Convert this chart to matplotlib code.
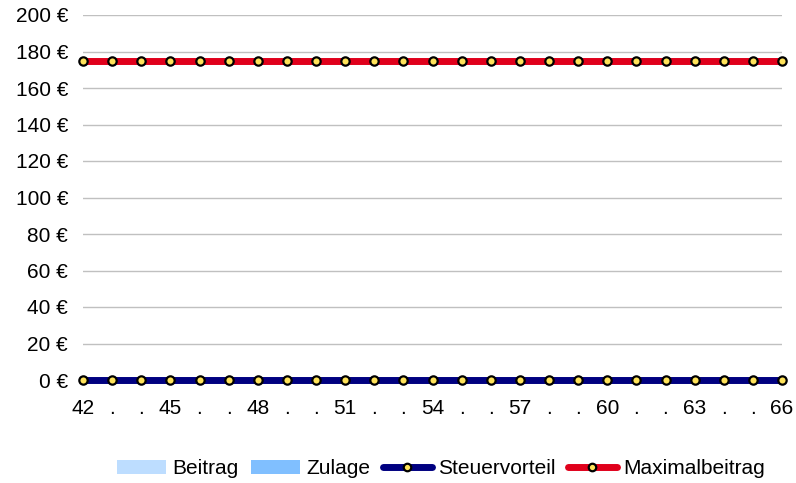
import matplotlib.pyplot as plt
import numpy as np
from matplotlib.patches import Patch
from matplotlib.lines import Line2D

plt.rcParams['font.family'] = ['Liberation Sans', 'DejaVu Sans']

# Alter 42..66
alter = list(range(42, 67))
beitrag = [0] * len(alter)
zulage = [0] * len(alter)
steuervorteil = [0] * len(alter)
maximalbeitrag = [175] * len(alter)

yticks = [0, 20, 40, 60, 80, 100, 120, 140, 160, 180, 200]
xlabels = [str(a) if (a - 42) % 3 == 0 else '.' for a in alter]

c_beitrag = '#BDDDFF'
c_zulage = '#80BFFF'
c_steuer = '#000080'
c_max = '#E0001B'
c_marker = '#FFE35A'

fig = plt.figure(figsize=(7.96, 4.83), dpi=100)
ax = fig.add_axes([83 / 796, 1 - 380 / 483, (782 - 83) / 796, (380 - 15) / 483])

x = np.array(alter)
ax.bar(x, beitrag, width=0.6, color=c_beitrag, zorder=2)
ax.bar(x, zulage, bottom=beitrag, width=0.6, color=c_zulage, zorder=2)

line_kw = dict(linewidth=5, marker='o', markersize=6, markerfacecolor=c_marker,
               markeredgecolor='black', markeredgewidth=1.6)
ax.plot(x, steuervorteil, color=c_steuer, zorder=4, clip_on=False,
        solid_capstyle='butt', **line_kw)
ax.plot(x, maximalbeitrag, color=c_max, zorder=4, clip_on=False,
        solid_capstyle='butt', **line_kw)

ax.set_xlim(42, 66)
ax.set_ylim(0, 200)
ax.set_yticks(yticks)
ax.set_yticklabels([f'{v} €' for v in yticks])
ax.set_xticks(alter)
ax.set_xticklabels(xlabels)
ax.grid(axis='y', color='#c0c0c0', linewidth=1, zorder=0)
ax.set_axisbelow(True)
for s in ax.spines.values():
    s.set_visible(False)
ax.tick_params(axis='y', length=0, labelsize=15, pad=10.8, colors='black')
ax.tick_params(axis='x', length=3, color='#c0c0c0', labelsize=15, pad=10.5)

handles = [
    Patch(facecolor=c_beitrag, label='Beitrag'),
    Patch(facecolor=c_zulage, label='Zulage'),
    Line2D([], [], color=c_steuer, label='Steuervorteil', solid_capstyle='round', **line_kw),
    Line2D([], [], color=c_max, label='Maximalbeitrag', solid_capstyle='round', **line_kw),
]
fig.legend(handles=handles, loc='center', bbox_to_anchor=(441 / 796, 1 - 469 / 483),
           ncol=4, frameon=False, fontsize=15, handlelength=2.35, handleheight=0.67,
           handletextpad=0.3, columnspacing=0.6, borderpad=0, markerscale=0.9)

fig.savefig('out.png', dpi=100)
